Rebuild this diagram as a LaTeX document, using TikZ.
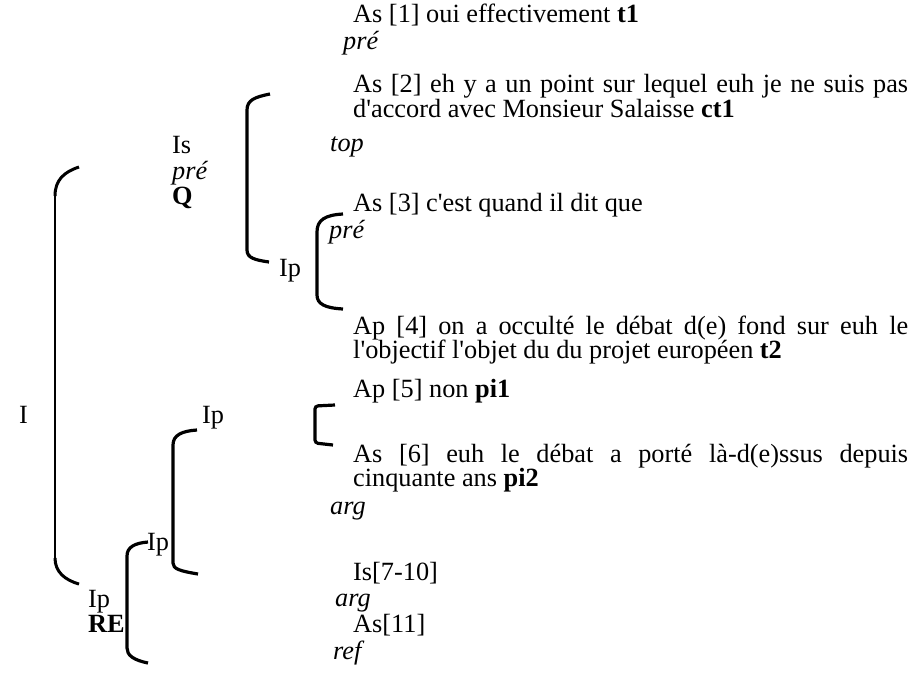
\documentclass[tikz,border=0pt]{standalone}
\usepackage{fontspec}
\setmainfont{Liberation Serif}
\newcommand\apos{\textquotesingle}
\begin{document}
\begin{tikzpicture}[x=1pt,y=-1pt,
  txt/.style={anchor=base west,inner sep=0pt,font=\fontsize{26.3}{29}\selectfont},
  thick brk/.style={line width=3.2pt,line cap=butt},
  thin brk/.style={line width=1.5pt},
  hook/.style={line width=3pt}]
\useasboundingbox (0,0) rectangle (923,675);
% right column texts
\node[txt] (t1) at (353,22) {As [1] oui effectivement \textbf{t1}};
\node[txt] (p1) at (343,49) {\itshape pré};
\node[txt] (t2a) at (353,92) {\makebox[555pt][s]{As [2] eh y a un point sur lequel euh je ne suis pas}};
\node[txt] (t2b) at (353,117) {d\apos accord avec Monsieur Salaisse \textbf{ct1}};
\node[txt] (top) at (330,151) {\itshape top};
\node[txt] (t3) at (353,211) {As [3] c\apos est quand il dit que};
\node[txt] (p2) at (329,238) {\itshape pré};
\node[txt] (t4a) at (353,334) {\makebox[555pt][s]{Ap [4] on a occulté le débat d(e) fond sur euh le}};
\node[txt] (t4b) at (353,358) {l\apos objectif l\apos objet du du projet européen \textbf{t2}};
\node[txt] (t5) at (353,397) {Ap [5] non \textbf{pi1}};
\node[txt] (t6a) at (353,462) {\makebox[555pt][s]{As [6] euh le débat a porté là-d(e)ssus depuis}};
\node[txt] (t6b) at (353,486) {cinquante ans \textbf{pi2}};
\node[txt] (arg1) at (330,514) {\itshape arg};
\node[txt] (t7) at (353,580) {Is[7-10]};
\node[txt] (arg2) at (335,606) {\itshape arg};
\node[txt] (t11) at (353,632) {As[11]};
\node[txt] (ref) at (333,659) {\itshape ref};
% left labels
\node[txt] (is) at (172,153) {Is};
\node[txt] (is2) at (172,179) {\itshape pré};
\node[txt] (isq) at (172,204) {\bfseries Q};
\node[txt] (ip1) at (279,276) {Ip};
\node[txt] (I) at (19,423) {I};
\node[txt] (ip2) at (202,423) {Ip};
\node[txt] (ip3) at (147,550) {Ip};
\node[txt] (ip4) at (88,607) {Ip};
\node[txt] (re) at (88,632) {\bfseries RE};
% brackets
\draw[thin brk] (55,192) -- (55,562);
\draw[hook] (79,167) .. controls (64,172) and (55,180) .. (55,196);
\draw[hook] (55,558) .. controls (55,572) and (65,580) .. (79,584);
\draw[thick brk] (270,94) .. controls (255,97) and (247,100) .. (247,110) -- (247,250) .. controls (247,258) and (255,260) .. (269,262);
\draw[thick brk] (343,214) .. controls (325,215) and (317,220) .. (317,232) -- (317,295) .. controls (317,304) and (325,308) .. (343,309);
\draw[thick brk,rounded corners=3pt] (335,405) -- (315,406) -- (315,443) -- (333,445);
\draw[thick brk] (197,430) .. controls (182,431) and (173,435) .. (173,445) -- (173,563) .. controls (173,569) and (180,571) .. (198,574);
\draw[thick brk] (148,542) .. controls (135,543) and (127,547) .. (127,556) -- (127,648) .. controls (127,655) and (133,660) .. (148,663);
\end{tikzpicture}
\end{document}
